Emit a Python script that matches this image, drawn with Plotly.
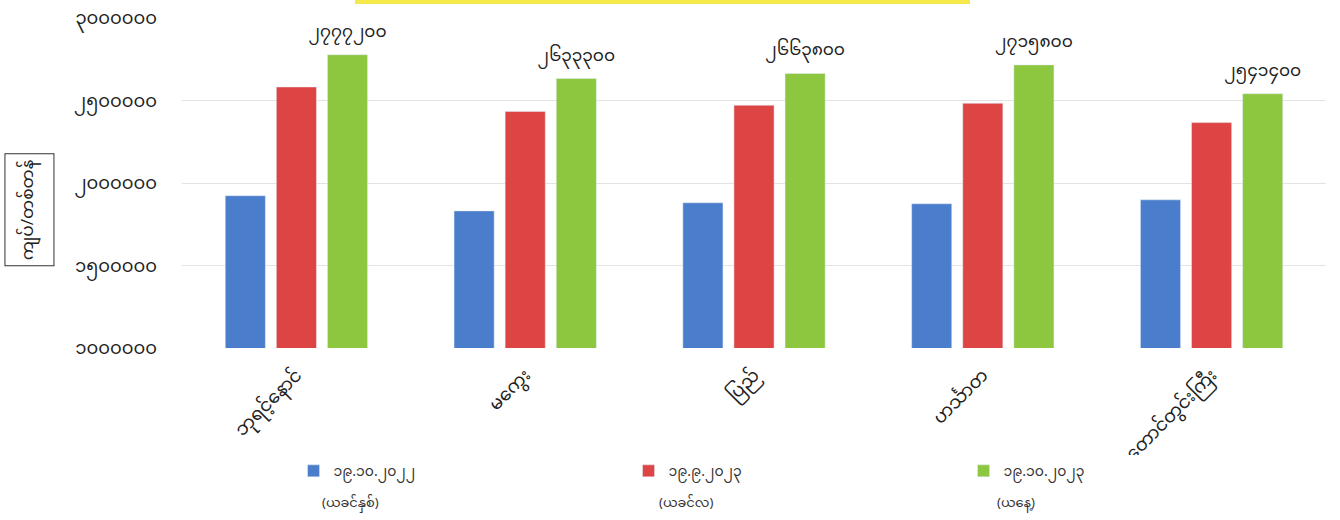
import plotly.graph_objects as go

categories = ["ဘုရင့်နောင်", "မကွေး", "ပြည်", "ဟင်္သာတ", "တောင်တွင်းကြီး"]
series_dates = ["၁၉.၁၀.၂၀၂၂", "၁၉.၉.၂၀၂၃", "၁၉.၁၀.၂၀၂၃"]
series_notes = ["(ယခင်နှစ်)", "(ယခင်လ)", "(ယနေ့)"]
prev_year = [1923000, 1831000, 1880000, 1874000, 1898000]
prev_month = [2582000, 2434000, 2471000, 2483000, 2366000]
today = [2777200, 2633300, 2663800, 2715800, 2541400]
today_labels = ["၂၇၇၇၂၀၀", "၂၆၃၃၃၀၀", "၂၆၆၃၈၀၀", "၂၇၁၅၈၀၀", "၂၅၄၁၄၀၀"]
tick_vals = [1000000, 1500000, 2000000, 2500000, 3000000]
tick_text = ["၁၀၀၀၀၀၀", "၁၅၀၀၀၀၀", "၂၀၀၀၀၀၀", "၂၅၀၀၀၀၀", "၃၀၀၀၀၀၀"]
y_title = "ကျပ်/တစ်တန်"

FONT = "Noto Sans Myanmar, Padauk, Myanmar Text, Noto Sans, DejaVu Sans, sans-serif"
colors = ["#4A7DCB", "#DD4444", "#8DC63F"]

fig = go.Figure()
fig.add_trace(go.Bar(x=categories, y=prev_year, name=series_dates[0], marker_color=colors[0]))
fig.add_trace(go.Bar(x=categories, y=prev_month, name=series_dates[1], marker_color=colors[1]))
fig.add_trace(go.Bar(x=categories, y=today, name=series_dates[2], marker_color=colors[2],
                     text=today_labels, textposition="outside", cliponaxis=False,
                     constraintext="none",
                     textfont=dict(size=17, color="#222222", family=FONT)))

PLOT_L, PLOT_W, PLOT_B, PLOT_H = 182, 1144, 348, 330
note_x_px = [320, 657, 995]
annotations = [dict(text=y_title, xref="paper", yref="paper",
                    x=-0.133, y=0.42, xanchor="center", yanchor="middle",
                    textangle=-90, showarrow=False,
                    font=dict(size=17, color="#222222", family=FONT),
                    bordercolor="#333333", borderwidth=1, borderpad=5)]
for note, px in zip(series_notes, note_x_px):
    annotations.append(dict(text=note, xref="paper", yref="paper",
                            x=(px - PLOT_L) / PLOT_W, y=(PLOT_B - 504) / PLOT_H,
                            xanchor="left", yanchor="middle", showarrow=False,
                            font=dict(size=13, color="#333333", family=FONT)))

fig.update_layout(
    width=1340, height=520,
    margin=dict(l=182, r=14, t=18, b=172, autoexpand=False),
    paper_bgcolor="white", plot_bgcolor="white",
    barmode="group", bargap=0.33, bargroupgap=0.215,
    font=dict(family=FONT, color="#222222"),
    showlegend=True,
    legend=dict(orientation="h", x=0.0975, xanchor="left", y=-0.325, yanchor="top",
                entrywidth=290, entrywidthmode="pixels",
                font=dict(size=14, color="#333333", family=FONT),
                itemwidth=30, traceorder="normal"),
    shapes=[dict(type="rect", xref="paper", yref="paper",
                 x0=(355 - PLOT_L) / PLOT_W, x1=(970 - PLOT_L) / PLOT_W,
                 y0=(PLOT_B - 4) / PLOT_H, y1=(PLOT_B + 2) / PLOT_H,
                 fillcolor="#F5E84A", line=dict(width=0), layer="above")],
    annotations=annotations,
)
fig.update_xaxes(tickangle=-45, tickfont=dict(size=18, color="#222222", family=FONT),
                 showline=False, ticks="", ticklabelstandoff=12)
fig.update_yaxes(range=[1000000, 3000000], tickvals=tick_vals, ticktext=tick_text,
                 tickfont=dict(size=18, color="#222222", family=FONT),
                 showgrid=True, gridcolor="#E3E3E3", gridwidth=1, zeroline=False,
                 ticklabelstandoff=24)

fig.write_html("out.html", post_script="document.body.style.margin='0px';",
               config={"displayModeBar": False})
